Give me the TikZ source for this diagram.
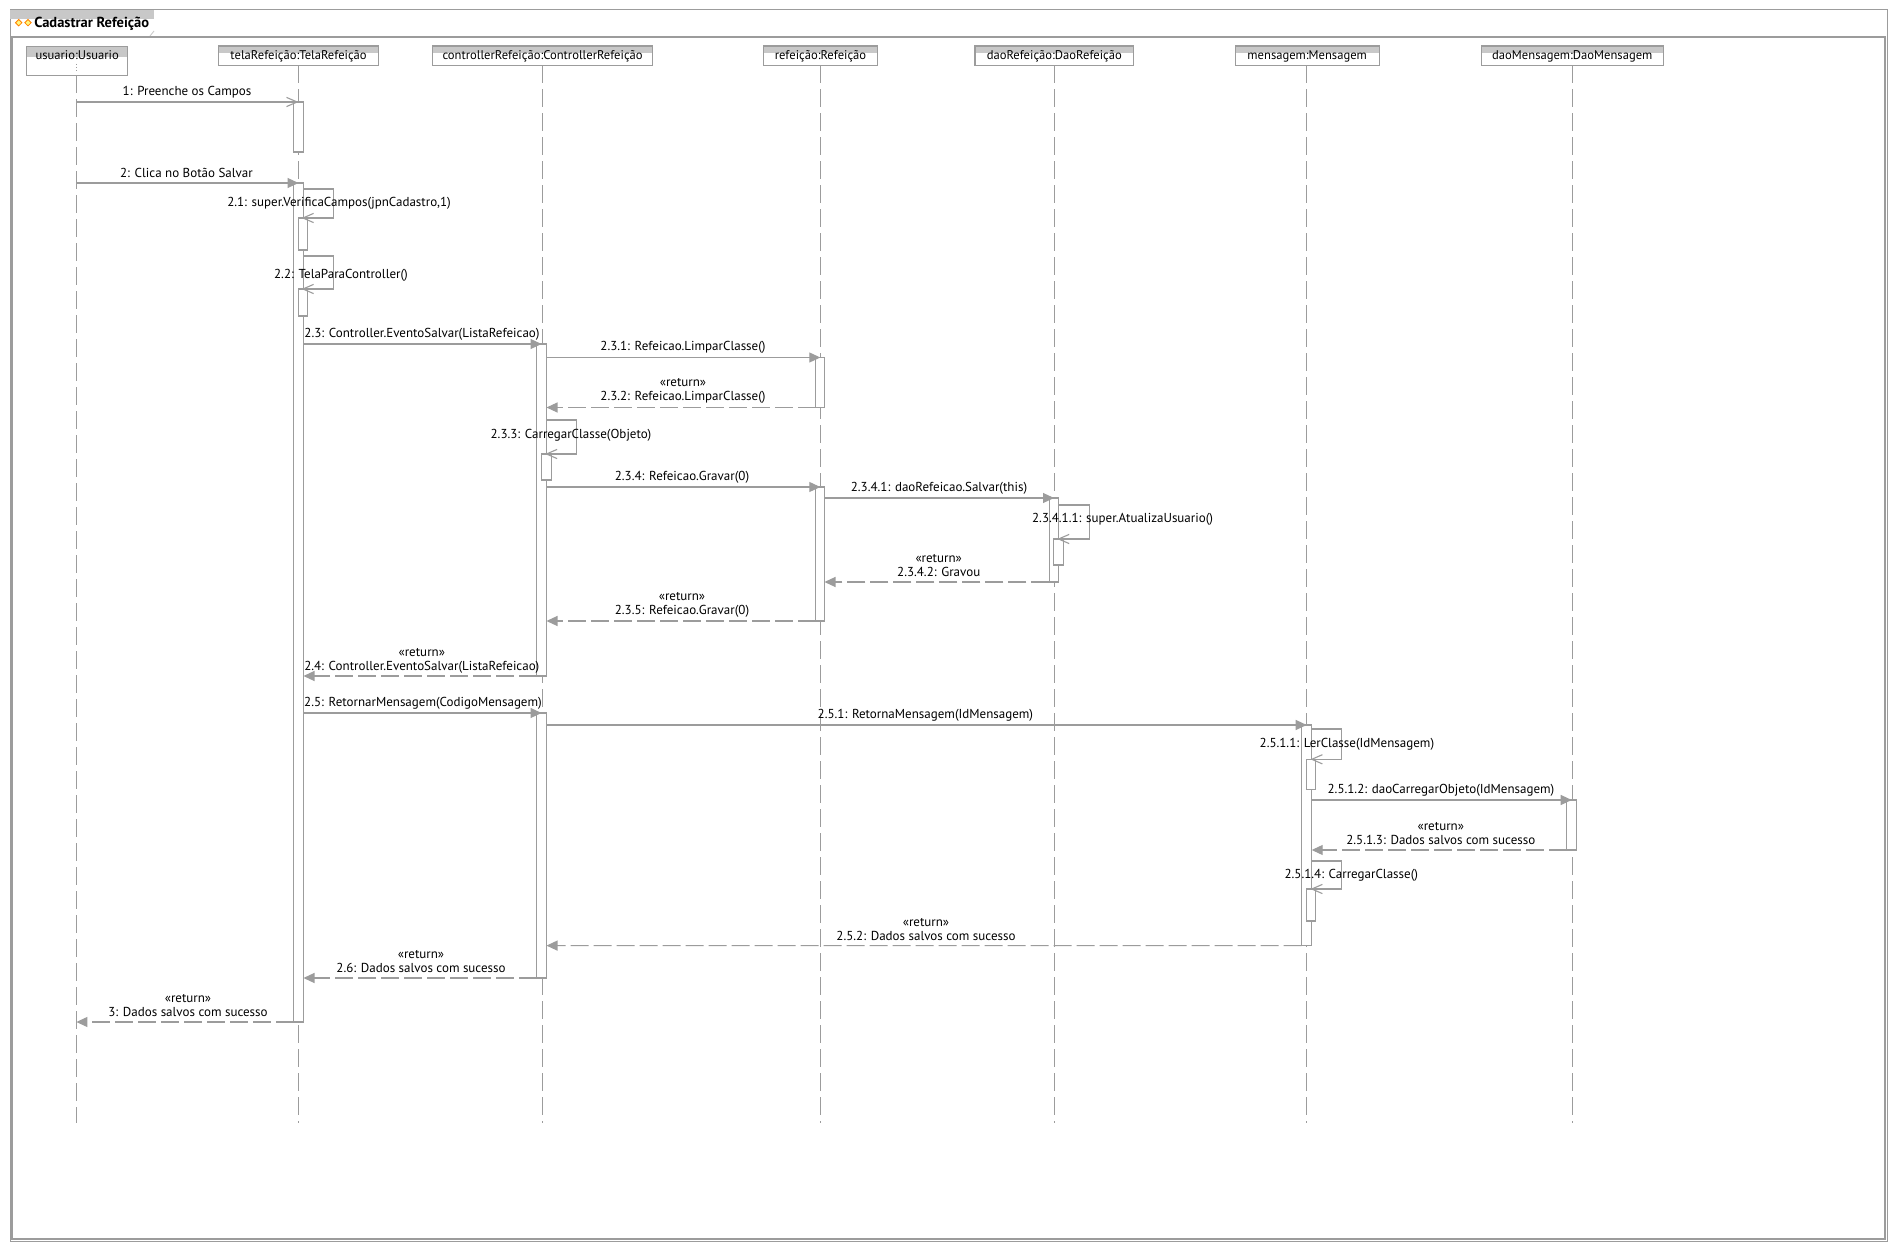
\documentclass[tikz,border=0pt]{standalone}
\usepackage{fontspec}
\setmainfont{PT Sans}
\usetikzlibrary{arrows.meta,shapes.geometric}
\definecolor{linha}{HTML}{9C9C9C}
\definecolor{faixa}{HTML}{C8C8C8}
\tikzset{
  every node/.style={inner sep=0pt,outer sep=0pt,font=\fontsize{6.5}{7}\selectfont},
  cabeca/.style={draw=linha,line width=0.55pt,fill=white,text height=6.8pt,text depth=2.85pt,font=\fontsize{6.3}{7}\selectfont,
    path picture={\fill[faixa] (path picture bounding box.north west) rectangle ([yshift=-#1]path picture bounding box.north east);}},
  cabeca/.default=3.65pt,
  vida/.style={draw=linha,line width=0.55pt,dash pattern=on 8.8pt off 3.2pt},
  barra/.style={draw=linha,line width=0.55pt,fill=white,anchor=north,minimum width=5pt},
  msgcheia/.style={draw=linha,line width=0.55pt,-{Triangle[length=5.5pt,width=5pt,fill=linha]}},
  msgaberta/.style={draw=linha,line width=0.55pt,-{Straight Barb[length=5.3pt,width=4.6pt,color=linha]}},
  retorno/.style={draw=linha,line width=0.55pt,dash pattern=on 9pt off 2.5pt,-{Triangle[length=5.5pt,width=5pt,fill=linha]}},
  rotulo/.style={align=center,text=black,yshift=-0.6pt},
  losango/.style={diamond,draw=orange,fill=yellow!50!white,line width=0.4pt,minimum width=3.2pt,minimum height=3.2pt},
}
\begin{document}
\begin{tikzpicture}[x=0.5pt,y=-0.5pt]
\useasboundingbox (0,0) rectangle (1897,1251);
\fill[white] (0,0) rectangle (1897,1251);
% moldura
\draw[linha,line width=0.5pt] (10,10) rectangle (1887.5,1241.7);
\fill[faixa] (10,10) rectangle (154,19);
\draw[faixa,line width=0.4pt] (154,31) -- (150,36);
\draw[linha,line width=1.25pt] (12,36.8) rectangle (1885,1239);
\node[losango] (ic1) at (18.7,22.7) {};
\node[losango] (ic2) at (28,22.7) {};
\node[rotulo,anchor=west,font=\fontsize{7.25}{8}\bfseries] (titulo) at (34.3,22.2) {Cadastrar Refeição};
% lifelines
\node[cabeca=5.2pt,minimum width=50.5pt,text depth=7.85pt] (usuario) at (77.2,60.8) {usuario:Usuario};
\node[cabeca,minimum width=80.2pt] (tela) at (298.6,55.7) {telaRefeição:TelaRefeição};
\node[cabeca,minimum width=110pt] (controller) at (542.6,55.7) {controllerRefeição:ControllerRefeição};
\node[cabeca,minimum width=57pt] (refeicao) at (820.5,55.7) {refeição:Refeição};
\node[cabeca,minimum width=79.3pt] (daoRefeicao) at (1054.3,55.7) {daoRefeição:DaoRefeição};
\node[cabeca,minimum width=72pt] (mensagem) at (1307.2,55.7) {mensagem:Mensagem};
\node[cabeca,minimum width=91pt] (daoMensagem) at (1572.3,55.7) {daoMensagem:DaoMensagem};
\coordinate (fim1) at (76.4,1123);
\coordinate (fim2) at (298.5,1123);
\coordinate (fim3) at (542.5,1123);
\coordinate (fim4) at (820.3,1123);
\coordinate (fim5) at (1054.4,1123);
\coordinate (fim6) at (1306.7,1123);
\coordinate (fim7) at (1572.3,1123);
\coordinate (marca1) at (76.4,64);
\coordinate (marca2) at (76.4,72.7);
\draw[linha,line width=0.5pt,densely dotted] (marca1) -- (marca2);
\draw[vida] (fim1 |- usuario.south) -- (fim1);
\draw[vida] (fim2 |- tela.south) -- (fim2);
\draw[vida] (fim3 |- controller.south) -- (fim3);
\draw[vida] (fim4 |- refeicao.south) -- (fim4);
\draw[vida] (fim5 |- daoRefeicao.south) -- (fim5);
\draw[vida] (fim6 |- mensagem.south) -- (fim6);
\draw[vida] (fim7 |- daoMensagem.south) -- (fim7);
% barras de ativacao
\node[barra,minimum height=25pt] (a1) at (298.5,102) {};
\node[barra,minimum height=419.5pt] (a2) at (298.5,183) {};
\node[barra,minimum height=16pt,minimum width=4.6pt] (s21) at (303,218) {};
\node[barra,minimum height=13.5pt,minimum width=4.6pt] (s22) at (303,289) {};
\node[barra,minimum height=166pt] (b1) at (541.5,344) {};
\node[barra,minimum height=13pt] (s233) at (546.5,454) {};
\node[barra,minimum height=25pt,minimum width=4.4pt] (r1) at (820.3,357.5) {};
\node[barra,minimum height=67pt,minimum width=4.4pt] (r2) at (820.3,487) {};
\node[barra,minimum height=42pt,minimum width=4.6pt] (d1) at (1054,498) {};
\node[barra,minimum height=13pt] (s2341) at (1058.6,539) {};
\node[barra,minimum height=132.5pt] (b2) at (541.5,713) {};
\node[barra,minimum height=110.3pt] (m1) at (1306.7,725) {};
\node[barra,minimum height=15pt,minimum width=4.7pt] (s2511) at (1311,759.3) {};
\node[barra,minimum height=25pt] (dm1) at (1571.7,800) {};
\node[barra,minimum height=16pt,minimum width=4.7pt] (s2514) at (1311,889) {};
% mensagens
\coordinate (u1) at (76.4,102);
\coordinate (u2) at (76.4,183);
\coordinate (t23) at (303.5,344);
\coordinate (t25) at (303.5,713);
\coordinate (c231) at (546.5,357.5);
\coordinate (c234) at (546.5,487);
\coordinate (c251) at (546.5,725);
\coordinate (r2341) at (824.5,498);
\coordinate (m2512) at (1311.7,800);
\draw[msgaberta] (u1) -- (a1.north);
\draw[msgcheia] (u2) -- (a2.north);
\draw[msgcheia] (t23) -- (b1.north);
\draw[msgcheia] (c231) -- (r1.north);
\draw[msgcheia] (c234) -- (r2.north);
\draw[msgcheia] (r2341) -- (d1.north);
\draw[msgcheia] (t25) -- (b2.north);
\draw[msgcheia] (c251) -- (m1.north);
\draw[msgcheia] (m2512) -- (dm1.north);
% retornos
\coordinate (c232) at (546.5,407.5);
\coordinate (r2342) at (824.5,582);
\coordinate (c235) at (546.5,621);
\coordinate (t24) at (303.5,676);
\coordinate (m2513) at (1311.7,850);
\coordinate (c252) at (546.5,945.6);
\coordinate (t26) at (303.5,978);
\coordinate (u3) at (76.4,1022);
\draw[retorno] (r1.south west) -- (c232);
\draw[retorno] (d1.south west) -- (r2342);
\draw[retorno] (r2.south west) -- (c235);
\draw[retorno] (b1.south west) -- (t24);
\draw[retorno] (dm1.south west) -- (m2513);
\draw[retorno] (m1.south west) -- (c252);
\draw[retorno] (b2.south west) -- (t26);
\draw[retorno] (a2.south west) -- (u3);
% auto chamadas
\coordinate (t21) at (303.5,189);
\coordinate (t21b) at (333.5,218);
\coordinate (t22) at (303.5,256);
\coordinate (t22b) at (333.5,289);
\coordinate (c233) at (546.5,420);
\coordinate (c233b) at (576.5,454);
\coordinate (d2341) at (1058.6,505);
\coordinate (d2341b) at (1089.7,539);
\coordinate (m2511) at (1311.7,729);
\coordinate (m2511b) at (1341.5,759.3);
\coordinate (m2514) at (1311.7,861);
\coordinate (m2514b) at (1341.5,889);
\draw[msgaberta] (t21) -| (t21b) -- ([xshift=-0.7pt]s21.north);
\draw[msgaberta] (t22) -| (t22b) -- ([xshift=-0.7pt]s22.north);
\draw[msgaberta] (c233) -| (c233b) -- ([xshift=-0.7pt]s233.north);
\draw[msgaberta] (d2341) -| (d2341b) -- ([xshift=-0.7pt]s2341.north);
\draw[msgaberta] (m2511) -| (m2511b) -- ([xshift=-0.3pt]s2511.north);
\draw[msgaberta] (m2514) -| (m2514b) -- ([xshift=-0.3pt]s2514.north);
% textos
\node[rotulo] (l1) at (187,91) {1: Preenche os Campos};
\node[rotulo] (l2) at (186.5,172) {2: Clica no Botão Salvar};
\node[rotulo] (l21) at (339,202) {2.1: super.VerificaCampos(jpnCadastro,1)};
\node[rotulo] (l22) at (341,274) {2.2: TelaParaController()};
\node[rotulo] (l23) at (422,333) {2.3: Controller.EventoSalvar(ListaRefeicao)};
\node[rotulo] (l231) at (683,346) {2.3.1: Refeicao.LimparClasse()};
\node[rotulo] (l232) at (683,390) {«return»\\2.3.2: Refeicao.LimparClasse()};
\node[rotulo] (l233) at (571,433.7) {2.3.3: CarregarClasse(Objeto)};
\node[rotulo] (l234) at (682,475.7) {2.3.4: Refeicao.Gravar(0)};
\node[rotulo] (l2341) at (939,486.7) {2.3.4.1: daoRefeicao.Salvar(this)};
\node[rotulo] (l23411) at (1122.6,517.7) {2.3.4.1.1: super.AtualizaUsuario()};
\node[rotulo] (l2342) at (938.7,564.7) {«return»\\2.3.4.2: Gravou};
\node[rotulo] (l235) at (682,603.7) {«return»\\2.3.5: Refeicao.Gravar(0)};
\node[rotulo] (l24) at (421.8,659.7) {«return»\\2.4: Controller.EventoSalvar(ListaRefeicao)};
\node[rotulo] (l25) at (423,701.7) {2.5: RetornarMensagem(CodigoMensagem)};
\node[rotulo] (l251) at (925.4,713.7) {2.5.1: RetornaMensagem(IdMensagem)};
\node[rotulo] (l2511) at (1346.9,743.3) {2.5.1.1: LerClasse(IdMensagem)};
\node[rotulo] (l2512) at (1441,789) {2.5.1.2: daoCarregarObjeto(IdMensagem)};
\node[rotulo] (l2513) at (1440.8,832.8) {«return»\\2.5.1.3: Dados salvos com sucesso};
\node[rotulo] (l2514) at (1351.3,874.4) {2.5.1.4: CarregarClasse()};
\node[rotulo] (l252) at (926,928.5) {«return»\\2.5.2: Dados salvos com sucesso};
\node[rotulo] (l26) at (421,960.5) {«return»\\2.6: Dados salvos com sucesso};
\node[rotulo] (l3) at (188,1004.7) {«return»\\3: Dados salvos com sucesso};
\end{tikzpicture}
\end{document}
